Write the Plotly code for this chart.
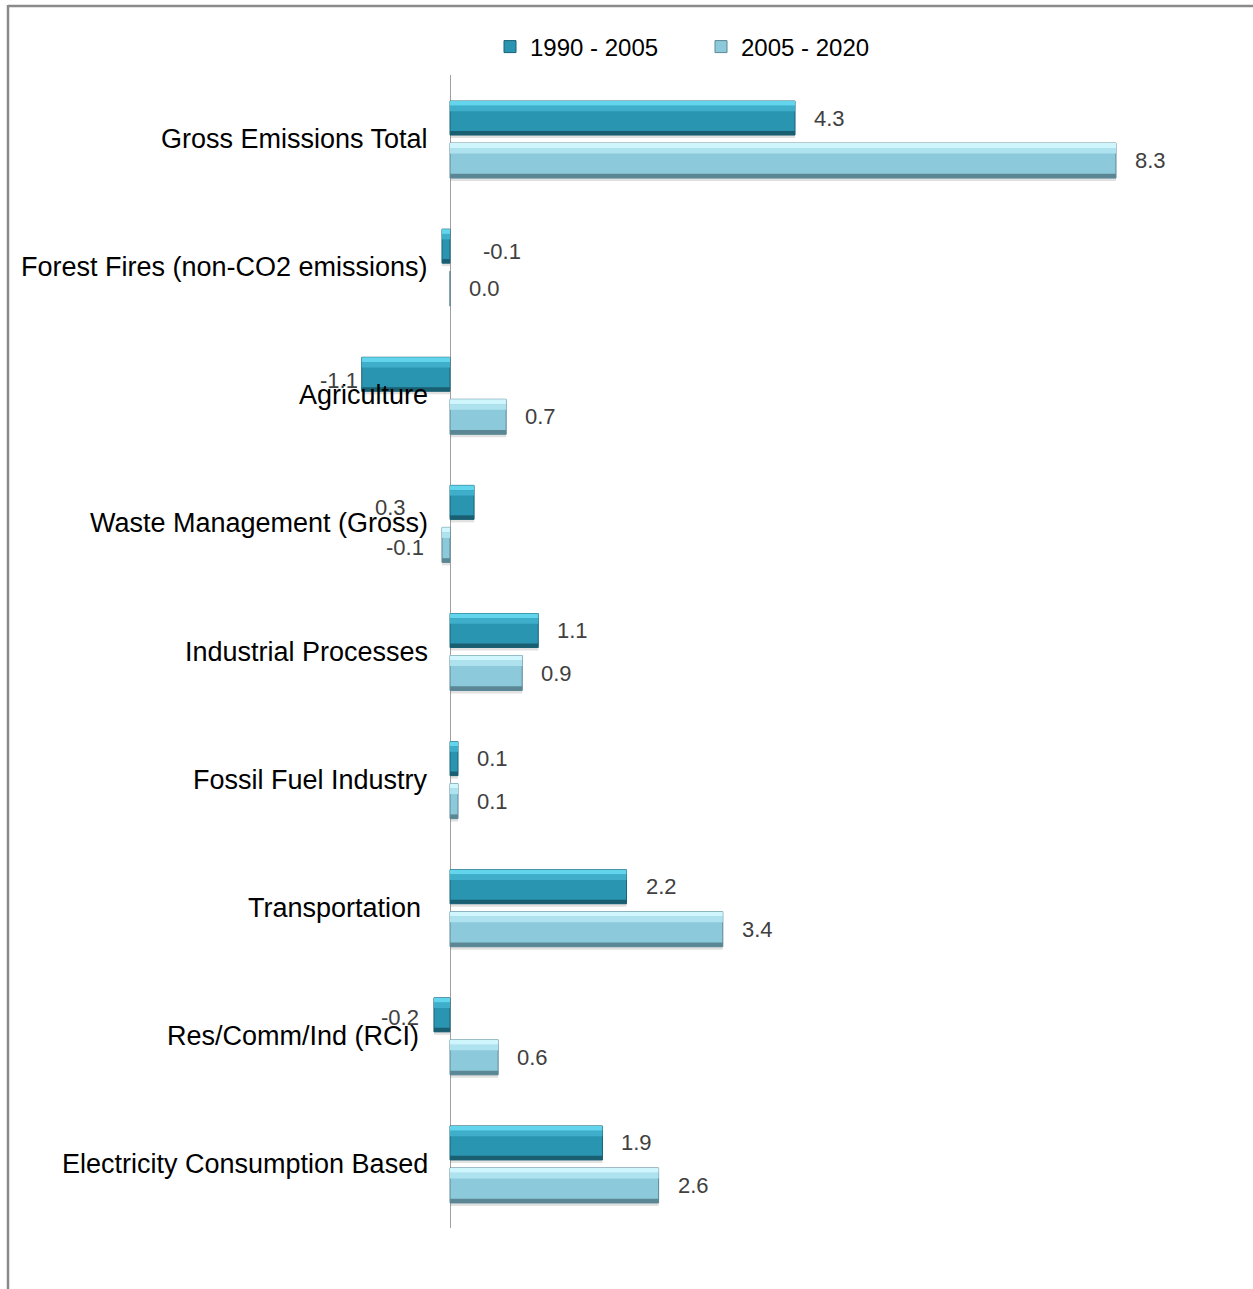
import plotly.graph_objects as go

# ---- data ---------------------------------------------------------------
categories = [
    "Gross Emissions Total",
    "Forest Fires (non-CO2 emissions)",
    "Agriculture",
    "Waste Management (Gross)",
    "Industrial Processes",
    "Fossil Fuel Industry",
    "Transportation",
    "Res/Comm/Ind (RCI)",
    "Electricity Consumption Based",
]
series_names = ["1990 - 2005", "2005 - 2020"]
growth_1990_2005 = [4.3, -0.1, -1.1, 0.3, 1.1, 0.1, 2.2, -0.2, 1.9]
growth_2005_2020 = [8.3, 0.0, 0.7, -0.1, 0.9, 0.1, 3.4, 0.6, 2.6]
series_values = [growth_1990_2005, growth_2005_2020]

# ---- geometry / style ---------------------------------------------------
W, H = 1253, 1289
ML, MR, MT, MB = 10, 10, 75, 61
PLOT_W = W - ML - MR
PLOT_H = H - MT - MB
ZERO_PX = 450                       # horizontal pixel of the value axis
PX_PER_UNIT = 80.24
x_range = [(ML - ZERO_PX) / PX_PER_UNIT, (ML + PLOT_W - ZERO_PX) / PX_PER_UNIT]
CAT_PX = PLOT_H / len(categories)   # pixels per category slot

# bar slots inside a category (offset from centre, thickness) in category units
bar_slots = [(-38 / CAT_PX, 34 / CAT_PX), (4 / CAT_PX, 35 / CAT_PX)]

# bevel layers: (start fraction, end fraction, colour) for each series;
# the first layer is the full bar body
palettes = [
    [(0.00, 1.00, "#2a95b1"), (0.00, 0.14, "#62d5ec"), (0.14, 0.30, "#3eaeca"),
     (0.88, 1.00, "#1a5e71")],
    [(0.00, 1.00, "#8ccadb"), (0.00, 0.14, "#cff6fc"), (0.14, 0.30, "#aee2ee"),
     (0.88, 1.00, "#5b8795")],
]
edge_colors = ["#1b6276", "#5c8796"]
legend_colors = ["#2a95b1", "#8ccadb"]

fig = go.Figure()

for s, (vals, name) in enumerate(zip(series_values, series_names)):
    off, thick = bar_slots[s]
    # soft shadow beneath the bar
    fig.add_trace(go.Bar(
        y=categories, x=vals, orientation="h",
        offset=off + 3 / CAT_PX, width=thick,
        marker=dict(color="rgba(120,120,120,0.22)", line=dict(width=0)),
        showlegend=False, hoverinfo="skip",
    ))
    for k, (f0, f1, col) in enumerate(palettes[s]):
        fig.add_trace(go.Bar(
            y=categories, x=vals, orientation="h",
            offset=off + f0 * thick, width=(f1 - f0) * thick,
            marker=dict(
                color=col if k else legend_colors[s],
                line=dict(width=1 if k == 0 else 0, color=edge_colors[s]),
            ),
            name=name, legendgroup=name, showlegend=(k == 0),
            hoverinfo="skip" if k else None,
        ))

# ---- category labels, right aligned against the value axis --------------
label_extra_shift = {"Transportation": -7, "Res/Comm/Ind (RCI)": -9}
annotations = []
for i, cat in enumerate(categories):
    annotations.append(dict(
        x=0, y=i, xref="x", yref="y", text=cat, showarrow=False,
        xanchor="right", yanchor="middle",
        xshift=-20 + label_extra_shift.get(cat, 0),
        font=dict(family="Liberation Sans, Arial", size=27, color="#000000"),
    ))

# ---- value labels -------------------------------------------------------
# default: just beyond the bar end; a few entries sit elsewhere
label_overrides = {
    (0, 1): ("left", 39, -5),
    (0, 2): ("right", -2, -6),
    (0, 3): ("right", -66, -5),
    (1, 3): ("right", -16, -3),
    (0, 7): ("right", -13, -3),
}
for s, vals in enumerate(series_values):
    off, thick = bar_slots[s]
    for i, v in enumerate(vals):
        if (s, i) in label_overrides:
            anchor, dx, dy = label_overrides[(s, i)]
        elif v >= 0:
            anchor, dx, dy = "left", 17, 0
        else:
            anchor, dx, dy = "right", -14, -3
        annotations.append(dict(
            x=v, y=i + off + thick / 2, xref="x", yref="y",
            text=f"{v:.1f}", showarrow=False,
            xanchor=anchor, yanchor="middle", xshift=dx, yshift=dy,
            font=dict(family="Liberation Sans, Arial", size=22, color="#404040"),
        ))

# ---- outer frame (top and left edges) ------------------------------------
def px_x(px):
    return (px - ML) / PLOT_W

def px_y(py):
    return (H - MB - py) / PLOT_H

frame = [
    dict(type="line", xref="paper", yref="paper", x0=px_x(8), x1=px_x(1260),
         y0=px_y(6), y1=px_y(6), line=dict(color="#8a8a8a", width=2.5)),
    dict(type="line", xref="paper", yref="paper", x0=px_x(8), x1=px_x(8),
         y0=px_y(5), y1=px_y(1300), line=dict(color="#8a8a8a", width=2.5)),
]

fig.update_layout(
    width=W, height=H,
    margin=dict(l=ML, r=MR, t=MT, b=MB),
    paper_bgcolor="white", plot_bgcolor="white",
    barmode="overlay",
    annotations=annotations,
    shapes=frame,
    showlegend=True,
    legend=dict(
        orientation="h", x=px_x(490), y=px_y(47),
        xanchor="left", yanchor="middle",
        font=dict(family="Liberation Sans, Arial", size=24, color="#000000"),
        itemwidth=30, entrywidth=166, entrywidthmode="pixels",
        bgcolor="rgba(0,0,0,0)", tracegroupgap=0,
    ),
    xaxis=dict(
        range=x_range, showgrid=False, showticklabels=False, ticks="",
        zeroline=True, zerolinecolor="#a0a0a0", zerolinewidth=1.2,
        showline=False, fixedrange=True,
    ),
    yaxis=dict(
        range=[len(categories) - 0.5, -0.5], showgrid=False,
        showticklabels=False, ticks="", showline=False, zeroline=False,
        fixedrange=True,
    ),
)

fig.write_html("out.html")
